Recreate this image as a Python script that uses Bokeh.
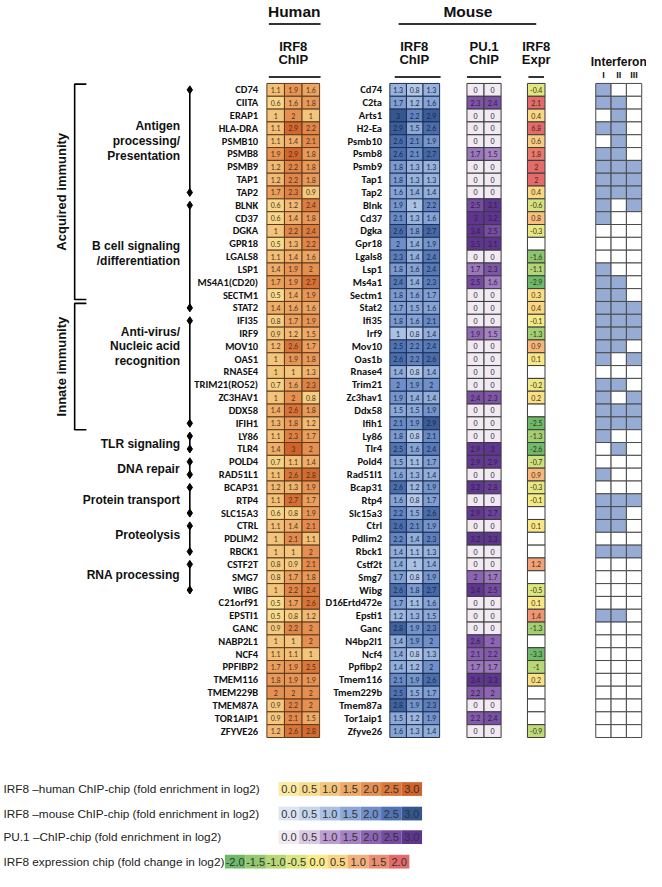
import numpy as np
from bokeh.plotting import figure
from bokeh.models import Range1d
from bokeh.embed import file_html
from bokeh.resources import INLINE
from bokeh.core.properties import value

# ---------------- data ----------------
human_genes = ["CD74", "CIITA", "ERAP1", "HLA-DRA", "PSMB10", "PSMB8", "PSMB9", "TAP1", "TAP2",
               "BLNK", "CD37", "DGKA", "GPR18", "LGALS8", "LSP1", "MS4A1(CD20)", "SECTM1", "STAT2",
               "IFI35", "IRF9", "MOV10", "OAS1", "RNASE4", "TRIM21(RO52)", "ZC3HAV1", "DDX58", "IFIH1",
               "LY86", "TLR4", "POLD4", "RAD51L1", "BCAP31", "RTP4", "SLC15A3", "CTRL", "PDLIM2", "RBCK1",
               "CSTF2T", "SMG7", "WIBG", "C21orf91", "EPSTI1", "GANC", "NABP2L1", "NCF4", "PPFIBP2",
               "TMEM116", "TMEM229B", "TMEM87A", "TOR1AIP1", "ZFYVE26"]
human_irf8 = [(1.1, 1.9, 1.6), (0.6, 1.6, 1.8), (1, 2, 1), (1.1, 2.9, 2.2), (1.1, 1.4, 2.1),
              (1.9, 2.9, 1.8), (1.2, 2.2, 1.8), (1.2, 2.2, 1.8), (1.7, 2.3, 0.9), (0.6, 1.2, 2.4),
              (0.6, 1.4, 1.8), (1, 2.2, 2.4), (0.5, 1.3, 2.2), (1.1, 1.4, 1.6), (1.4, 1.9, 2),
              (1.7, 1.9, 2.7), (0.5, 1.4, 1.9), (1.4, 1.6, 1.6), (0.8, 1.7, 1.9), (0.9, 1.2, 1.5),
              (1.2, 2.6, 1.7), (1, 1.9, 1.8), (1, 1, 1.3), (0.7, 1.6, 2.3), (1, 2, 0.8),
              (1.4, 2.6, 1.8), (1.3, 1.8, 1.2), (1.1, 2.3, 1.7), (1.4, 3, 2), (0.7, 1.1, 1.4),
              (1.1, 2.6, 2.8), (1.2, 1.3, 1.9), (1.1, 2.7, 1.7), (0.6, 0.8, 1.9), (1.1, 1.4, 2.1),
              (1, 2.1, 1.1), (1, 1, 2), (0.8, 0.9, 2.1), (0.8, 1.7, 1.8), (1, 2.2, 2.4),
              (0.5, 1.7, 2.6), (0.5, 0.8, 1.2), (0.9, 2.2, 2), (1, 1, 2), (1.1, 1.1, 1),
              (1.7, 1.9, 2.5), (1.8, 1.9, 1.9), (2, 2, 2), (0.9, 2.2, 2), (0.9, 2.1, 1.5),
              (1.2, 2.6, 2.8)]

mouse_genes = ["Cd74", "C2ta", "Arts1", "H2-Ea", "Psmb10", "Psmb8", "Psmb9", "Tap1", "Tap2",
               "Blnk", "Cd37", "Dgka", "Gpr18", "Lgals8", "Lsp1", "Ms4a1", "Sectm1", "Stat2",
               "Ifi35", "Irf9", "Mov10", "Oas1b", "Rnase4", "Trim21", "Zc3hav1", "Ddx58", "Ifih1",
               "Ly86", "Tlr4", "Pold4", "Rad51l1", "Bcap31", "Rtp4", "Slc15a3", "Ctrl", "Pdlim2", "Rbck1",
               "Cstf2t", "Smg7", "Wibg", "D16Ertd472e", "Epsti1", "Ganc", "N4bp2l1", "Ncf4", "Ppfibp2",
               "Tmem116", "Tmem229b", "Tmem87a", "Tor1aip1", "Zfyve26"]
mouse_irf8 = [(1.3, 0.8, 1.3), (1.7, 1.2, 1.6), (3, 2.2, 2.9), (2.9, 1.5, 2.6), (2.6, 2.1, 1.9),
              (2.6, 2.1, 2.7), (1.8, 1.3, 1.3), (1.8, 1.3, 1.3), (1.6, 1.4, 1.4), (1.9, 1, 2.2),
              (2.1, 1.3, 1.6), (2.6, 1.8, 2.7), (2, 1.4, 1.9), (2.3, 1.4, 2.4), (1.8, 1.6, 2.4),
              (2.4, 1.4, 2.3), (1.8, 1.6, 1.7), (1.7, 1.5, 1.6), (1.8, 1.6, 2.1), (1, 0.8, 1.4),
              (2.5, 2.2, 2.4), (2.6, 2.2, 2.6), (1.4, 0.8, 1.4), (2, 1.9, 2), (1.9, 1.4, 1.4),
              (1.5, 1.5, 1.9), (2.1, 1.9, 2.9), (1.8, 0.8, 2.1), (2.5, 1.6, 2.4), (1.5, 1.1, 1.7),
              (1.6, 1.3, 1.4), (2.6, 1.2, 1.9), (1.6, 0.8, 1.7), (2.2, 1.5, 2.6), (2.6, 2.1, 1.9),
              (2.2, 1.4, 2.3), (1.4, 1.1, 1.3), (1.4, 1, 1.4), (1.7, 0.8, 1.9), (2.6, 1.8, 2.7),
              (1.7, 1.1, 1.6), (1.2, 1.3, 1.5), (2.8, 1.9, 2.3), (1.4, 1.9, 2), (1.4, 0.8, 1.3),
              (1.4, 1.2, 2), (2.1, 1.9, 2.6), (2.5, 1.5, 1.7), (2.8, 1.9, 2.3), (1.5, 1.2, 1.9),
              (1.6, 1.3, 1.4)]
pu1_chip = [(0, 0), (2.3, 2.4), (0, 0), (0, 0), (0, 0), (1.7, 1.5), (0, 0), (0, 0), (0, 0), (2.5, 3.1),
            (3, 3.2), (3.4, 2.5), (3.5, 3.1), (0, 0), (1.7, 2.3), (2.5, 1.6), (0, 0), (0, 0), (0, 0),
            (1.9, 1.5), (0, 0), (0, 0), (0, 0), (0, 0), (2.4, 2.3), (0, 0), (0, 0), (0, 0), (2.9, 3),
            (2.9, 2.9), (0, 0), (3.2, 2.8), (0, 0), (2.9, 2.7), (0, 0), (3.2, 3.3), (0, 0), (0, 0),
            (2, 1.7), (3.4, 2.5), (0, 0), (0, 0), (0, 0), (2.6, 2), (2.1, 2.2), (1.7, 1.7), (3.4, 3.3),
            (2.2, 2), (0, 0), (2.2, 2.4), (0, 0)]
irf8_expr = [-0.4, 2.1, 0.4, 6.8, 0.6, 1.8, 2, 2, 0.4, -0.6, 0.8, -0.3, None, -1.6, -1.1, -2.9, 0.3,
             0.4, -0.1, -1.3, 0.9, 0.1, None, -0.2, 0.2, None, -2.5, -1.3, -2.6, -0.7, 0.9, -0.3,
             -0.1, None, 0.1, None, None, 1.2, None, -0.5, 0.1, 1.4, -1.3, None, -3.3, -1, 0.2,
             None, None, None, -0.9]
# interferon type I / II / III induction (1 = yes)
interferon = ["100", "110", "010", "110", "010", "110", "111", "111", "111", "101", "100", "000",
              "000", "000", "100", "110", "110", "111", "111", "111", "110", "101", "000", "110",
              "101", "111", "111", "100", "010", "000", "100", "000", "111", "110", "110", "000",
              "111", "000", "000", "000", "000", "110", "000", "000", "000", "000", "000", "000",
              "000", "000", "000"]
ifn_types = ["I", "II", "III"]

group_names = ["Antigen\nprocessing/\nPresentation", "B cell signaling\n/differentiation",
               "Anti-virus/\nNucleic acid\nrecognition", "TLR signaling", "DNA repair",
               "Protein transport", "Proteolysis", "RNA processing"]
group_first = [0, 9, 18, 27, 29, 31, 34, 37]
group_last = [8, 17, 26, 28, 30, 33, 36, 39]
group_label_row = [4, 12.75, 20, 27.6, 29.6, 32, 34.7, 37.8]

immunity_names = ["Acquired immunity", "Innate immunity"]
immunity_span = [(-0.45, 16.35), (16.65, 26.5)]

legend_titles = ["IRF8 \u2013human ChIP-chip  (fold enrichment in log2)",
                 "IRF8 \u2013mouse ChIP-chip (fold enrichment in log2)",
                 "PU.1 \u2013ChIP-chip (fold enrichment in log2)",
                 "IRF8 expression chip (fold change in log2)"]
chip_ticks = [0.0, 0.5, 1.0, 1.5, 2.0, 2.5, 3.0]
expr_ticks = [-2.0, -1.5, -1.0, -0.5, 0.0, 0.5, 1.0, 1.5, 2.0]

human_colors = ["#FCEBA3", "#F8DB8E", "#F3C47B", "#EDA966", "#E58F50", "#DC773B", "#D0622A"]
mouse_colors = ["#DCE5F1", "#C6D6EC", "#A9C1E3", "#8BA8D7", "#6E8FC9", "#5074B3", "#345792"]
pu1_colors = ["#F1EAF3", "#DBC8E3", "#BE9ED2", "#A482C3", "#8C64B3", "#764BA3", "#5F3592"]
expr_colors = ["#6DBA69", "#93C96D", "#B8D876", "#DCE57E", "#F9EB85", "#FAD383", "#F5B079",
               "#EE8E71", "#E56A6A"]

# ---------------- helpers ----------------
PITCH = 13.06


def Y(px):
    return (px - 91.0) / PITCH


def hex2rgb(h):
    return np.array([int(h[i:i + 2], 16) for i in (1, 3, 5)], dtype=float)


def cmap(v, ticks, colors):
    v = min(max(v, ticks[0]), ticks[-1])
    for k in range(len(ticks) - 1):
        if ticks[k] <= v <= ticks[k + 1]:
            t = (v - ticks[k]) / (ticks[k + 1] - ticks[k])
            c = hex2rgb(colors[k]) * (1 - t) + hex2rgb(colors[k + 1]) * t
            return "#%02x%02x%02x" % tuple(int(round(x)) for x in c)
    return colors[-1]


def fmt(v):
    return ("%g" % v)


p = figure(width=646, height=871, x_range=Range1d(0, 662), y_range=Range1d(Y(887), Y(0)),
           output_backend="svg", toolbar_location=None, min_border=0)
p.axis.visible = False
p.grid.visible = False
p.outline_line_color = None
p.background_fill_color = "white"
p.border_fill_color = "white"

ARIAL = value("Liberation Sans")
CAL = value("'Liberation Sans Narrow', Carlito, 'DejaVu Sans Condensed', Lato")
SMALL = value("Lato")

# ---------------- heat cells ----------------
panels = [
    # (x0, col width, rows of values, ticks, colors, line colour, text colour)
    (273.0, 18.0, human_irf8, chip_ticks, human_colors, "#5b3a1e", "#4a3422"),
    (399.0, 17.0, mouse_irf8, chip_ticks, mouse_colors, "#1f2f52", "#1c2846"),
    (478.0, 17.5, pu1_chip, chip_ticks, pu1_colors, "#3b3b3b", "#2f2236"),
    (540.0, 18.0, [(v,) for v in irf8_expr], expr_ticks, expr_colors, "#3b3b3b", "#3a3020"),
]
for x0, cw, rows, ticks, cols, lc, tc in panels:
    xs, ys, fills, txt, tx, ty = [], [], [], [], [], []
    for i, row in enumerate(rows):
        for j, v in enumerate(row):
            xs.append(x0 + (j + 0.5) * cw)
            ys.append(i)
            if v is None:
                fills.append("white")
            else:
                fills.append(cmap(v, ticks, cols))
                txt.append(fmt(v))
                tx.append(x0 + (j + 0.5) * cw)
                ty.append(i)
    p.rect(x=xs, y=ys, width=cw, height=1, fill_color=fills, line_color=lc, line_width=1)
    p.text(x=tx, y=ty, text=txt, text_align="center", text_baseline="middle",
           text_font=SMALL, text_font_size=value("7px"), text_color=tc)

# interferon grid
ix0, icw = 610.0, 15.7
xs, ys, fills = [], [], []
for i, code in enumerate(interferon):
    for j, ch in enumerate(code):
        xs.append(ix0 + (j + 0.5) * icw)
        ys.append(i)
        fills.append("#97ACD4" if ch == "1" else "white")
p.rect(x=xs, y=ys, width=icw, height=1, fill_color=fills, line_color="#4a4a4a", line_width=1)
p.text(x=[ix0 + (j + 0.5) * icw for j in range(3)], y=[Y(76)] * 3, text=ifn_types,
       text_align="center", text_baseline="middle", text_font=ARIAL,
       text_font_size=value("9px"), text_font_style="bold", text_color="#111")
p.text(x=[ix0 + 1.5 * icw], y=[Y(63)], text=["Interferon"], text_align="center",
       text_baseline="middle", text_font=ARIAL, text_font_size=value("12px"),
       text_font_style="bold", text_color="#111")

# gene labels
rows_idx = list(range(len(human_genes)))
p.text(x=[264] * len(human_genes), y=rows_idx, text=human_genes, text_align="right",
       text_baseline="middle", text_font=CAL, text_font_size=value("10.5px"),
       text_font_style="bold", text_color="#111")
p.text(x=[391] * len(mouse_genes), y=rows_idx, text=mouse_genes, text_align="right",
       text_baseline="middle", text_font=CAL, text_font_size=value("10.5px"),
       text_font_style="bold", text_color="#111")

# ---------------- headers ----------------
p.text(x=[301, 479], y=[Y(11)] * 2, text=["Human", "Mouse"], text_align="center",
       text_baseline="middle", text_font=ARIAL, text_font_size=value("15.5px"),
       text_font_style="bold", text_color="#111")
p.segment(x0=[275, 408], y0=[Y(24)] * 2, x1=[328, 549], y1=[Y(24)] * 2, line_color="#333",
          line_width=2)
sub_x = [300, 424, 495.5, 549]
p.text(x=sub_x, y=[Y(47)] * 4, text=["IRF8", "IRF8", "PU.1", "IRF8"], text_align="center",
       text_baseline="middle", text_font=ARIAL, text_font_size=value("13px"),
       text_font_style="bold", text_color="#111")
p.text(x=sub_x, y=[Y(60)] * 4, text=["ChIP", "ChIP", "ChIP", "Expr"], text_align="center",
       text_baseline="middle", text_font=ARIAL, text_font_size=value("13px"),
       text_font_style="bold", text_color="#111")
p.segment(x0=[275, 404, 478, 541], y0=[Y(78)] * 4, x1=[328, 451, 513, 557], y1=[Y(78)] * 4,
          line_color="#333", line_width=2)

# ---------------- group brackets ----------------
BX = 194
p.segment(x0=[BX] * len(group_first), y0=group_first, x1=[BX] * len(group_first), y1=group_last,
          line_color="black", line_width=1.6)
p.scatter(x=[BX] * (2 * len(group_first)), y=group_first + group_last, marker="diamond", size=8,
          fill_color="black", line_color="black")
p.text(x=[184] * len(group_names), y=group_label_row, text=group_names, text_align="right",
       text_baseline="middle", text_font=ARIAL, text_font_size=value("12px"),
       text_font_style="bold", text_color="#111", text_line_height=1.05)

# immunity brackets
for name, (a, b) in zip(immunity_names, immunity_span):
    p.line(x=[88, 76, 76, 88], y=[a, a, b, b], line_color="black", line_width=1.6)
    p.text(x=[63], y=[(a + b) / 2], text=[name], angle=np.pi / 2, text_align="center",
           text_baseline="middle", text_font=ARIAL, text_font_size=value("13px"),
           text_font_style="bold", text_color="#111")

# ---------------- colour legend ----------------
leg_y = [Y(803), Y(828), Y(852), Y(877)]
leg_x0 = [285, 285, 285, 230]
leg_sets = [(chip_ticks, human_colors), (chip_ticks, mouse_colors), (chip_ticks, pu1_colors),
            (expr_ticks, expr_colors)]
SW = 21
p.text(x=[3] * 4, y=leg_y, text=legend_titles, text_align="left", text_baseline="middle",
       text_font=ARIAL, text_font_size=value("11.8px"), text_color="#222")
for ly, lx, (ticks, cols) in zip(leg_y, leg_x0, leg_sets):
    xs = [lx + (k + 0.5) * SW for k in range(len(ticks))]
    p.rect(x=xs, y=[ly] * len(ticks), width=SW, height=14 / PITCH, fill_color=cols, line_color=None)
    p.text(x=xs, y=[ly] * len(ticks), text=["%.1f" % t for t in ticks], text_align="center",
           text_baseline="middle", text_font=ARIAL, text_font_size=value("11px"), text_color="#333")

open("out.html", "w").write(file_html(p, INLINE))
